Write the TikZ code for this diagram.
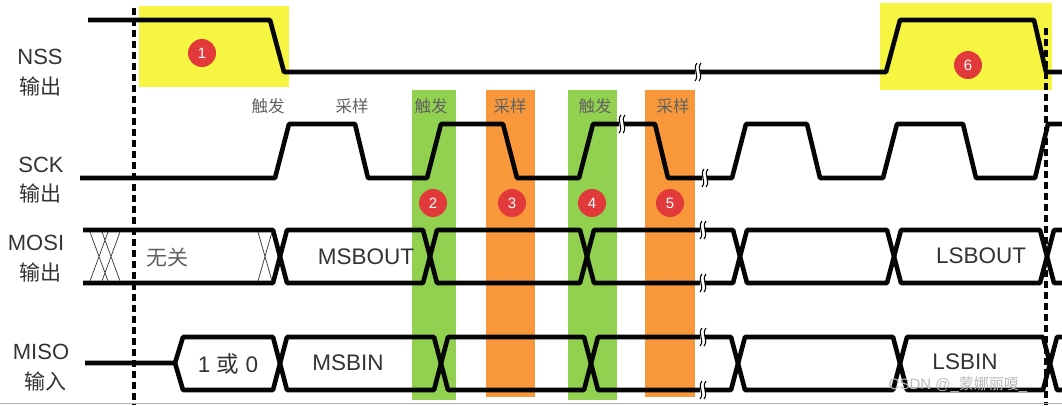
\documentclass[tikz,border=0pt]{standalone}
\usepackage{fontspec}
\setmainfont{Liberation Sans}
\newfontfamily\cjk{Noto Sans CJK SC}
\usetikzlibrary{calc, positioning}
\definecolor{hlYellow}{RGB}{246,246,66}
\definecolor{trigGreen}{RGB}{146,208,80}
\definecolor{sampOrange}{RGB}{248,152,58}
\definecolor{markRed}{RGB}{226,58,58}
\definecolor{mainBlack}{gray}{0.02}
\definecolor{subGray}{gray}{0.2}
\definecolor{noteGray}{gray}{0.38}

\begin{document}
\begin{tikzpicture}[x=1pt, y=-1pt,
    sig/.style={line width=4.6pt, mainBlack, line join=round},
    hatch/.style={line width=0.7pt, subGray},
    brk/.style={line width=1.1pt, mainBlack},
    cutline/.style={line width=3.4pt, mainBlack, dash pattern=on 7pt off 4pt},
    signame/.style={text=subGray, font=\fontsize{22}{22}\selectfont, inner sep=0pt},
    edgename/.style={text=noteGray, font=\cjk\fontsize{16.5}{16.5}\selectfont, inner sep=0pt},
    busname/.style={text=subGray, font=\fontsize{22.5}{22.5}\selectfont, inner sep=0pt},
    stepmark/.style={circle, fill=markRed, text=white, minimum size=28pt, inner sep=0pt, font=\fontsize{15}{15}\selectfont}]
    \useasboundingbox (0,0) rectangle (1062,405);

    % highlighted areas
    \fill[hlYellow] (139,6) rectangle (289,87);
    \fill[hlYellow] (880,3) rectangle (1052,90);
    \fill[trigGreen] (412,90) rectangle (456,400);
    \fill[sampOrange] (486,90) rectangle (535,397);
    \fill[trigGreen] (568,90) rectangle (617,400);
    \fill[sampOrange] (645,90) rectangle (695,397);

    \draw[cutline] (134,8) -- (134,405);
    \draw[cutline] (1046,28) -- (1046,405);

    % NSS
    \draw[sig] (88,20) -- (270,20) -- (284,72) -- (886,72) -- (900,20) -- (1034,20) -- (1046,72) -- (1062,72);
    % SCK
    \draw[sig] (80,178) -- (275,178) -- (289,124) -- (355,124) -- (368,178) -- (427,178) -- (441,124) -- (503,124)
        -- (517,178) -- (579,178) -- (593,124) -- (655,124) -- (668,178) -- (732,178) -- (746,124) -- (807,124)
        -- (820,178) -- (883,178) -- (897,124) -- (963,124) -- (976,178) -- (1035,178) -- (1048,124) -- (1062,124);
    % MOSI
    \draw[sig] (83,230) -- (273,230) -- (287,283) -- (423,283) -- (437,230) -- (580,230) -- (594,283) -- (733,283)
        -- (747,230) -- (887,230) -- (901,283) -- (1040,283) -- (1054,230) -- (1062,230);
    \draw[sig] (83,283) -- (273,283) -- (287,230) -- (423,230) -- (437,283) -- (580,283) -- (594,230) -- (733,230)
        -- (747,283) -- (887,283) -- (901,230) -- (1040,230) -- (1054,283) -- (1062,283);
    \draw[hatch] (90,232) -- (108,281) (108,232) -- (90,281) (102,232) -- (120,281) (120,232) -- (102,281);
    \draw[hatch] (258,232) -- (272,281) (272,232) -- (258,281);
    % MISO
    \draw[sig] (85,363) -- (175,363) -- (183,337) -- (273,337) -- (287,390) -- (434,390) -- (448,337) -- (584,337)
        -- (598,390) -- (731,390) -- (745,337) -- (893,337) -- (907,390) -- (1043,390) -- (1057,337) -- (1062,337);
    \draw[sig] (175,363) -- (183,390) -- (273,390) -- (287,337) -- (434,337) -- (448,390) -- (584,390)
        -- (598,337) -- (731,337) -- (745,390) -- (893,390) -- (907,337) -- (1043,337) -- (1057,390) -- (1062,390);

    % break marks
    \foreach \bx/\by in {698/72, 622/124, 705/178, 703/230, 703/283, 703/337, 703/390}{
        \fill[white] ({\bx-3},{\by-3}) rectangle ({\bx+2},{\by+3});
        \draw[brk] ({\bx-1},{\by-9}) .. controls ({\bx-6},{\by-3}) and ({\bx+2},{\by+3}) .. ({\bx-3},{\by+9});
        \draw[brk] ({\bx+3},{\by-9}) .. controls ({\bx-2},{\by-3}) and ({\bx+6},{\by+3}) .. ({\bx+1},{\by+9});
    }

    % step numbers
    \node[stepmark] (c1) at (202,53) {1};
    \node[stepmark] (c2) at (433,203) {2};
    \node[stepmark] (c3) at (512,203) {3};
    \node[stepmark] (c4) at (592,203) {4};
    \node[stepmark] (c5) at (670,203) {5};
    \node[stepmark] (c6) at (968,65) {6};

    % edge labels
    \node[edgename] (trigA) at (268,106) {触发};
    \node[edgename] (sampA) at (352,106) {采样};
    \node[edgename] (trigB) at (431,106) {触发};
    \node[edgename] (sampB) at (510,106) {采样};
    \node[edgename] (trigC) at (595,106) {触发};
    \node[edgename] (sampC) at (673,106) {采样};

    % signal names
    \node[signame] (nssA) at (40,57) {NSS};
    \node[signame, font=\cjk\fontsize{21}{21}\selectfont] (nssB) at (40,86) {输出};
    \node[signame] (sckA) at (41,165) {SCK};
    \node[signame, font=\cjk\fontsize{21}{21}\selectfont] (sckB) at (40,193) {输出};
    \node[signame] (mosiA) at (36,243) {MOSI};
    \node[signame, font=\cjk\fontsize{21}{21}\selectfont] (mosiB) at (40,272) {输出};
    \node[signame] (misoA) at (41,352) {MISO};
    \node[signame, font=\cjk\fontsize{21}{21}\selectfont] (misoB) at (45,381) {输入};

    % bus contents
    \node[busname, text=noteGray, font=\cjk\fontsize{21}{21}\selectfont] (dontcare) at (167,258) {无关};
    \node[busname] (msbout) at (366,257) {MSBOUT};
    \node[busname] (lsbout) at (981,256) {LSBOUT};
    \node[busname] (onezero) at (228,364) {1 {\cjk 或} 0};
    \node[busname] (msbin) at (348,363) {MSBIN};
    \node[busname] (lsbin) at (965,362) {LSBIN};

    \node[text=gray!55, font=\fontsize{15}{15}\selectfont, inner sep=0pt] (wmark) at (958,385) {CSDN @\_{\cjk 蒙娜丽嗄}\_};

    \draw[gray!60, line width=1pt] (0,403.5) -- (1062,403.5);
\end{tikzpicture}
\end{document}
